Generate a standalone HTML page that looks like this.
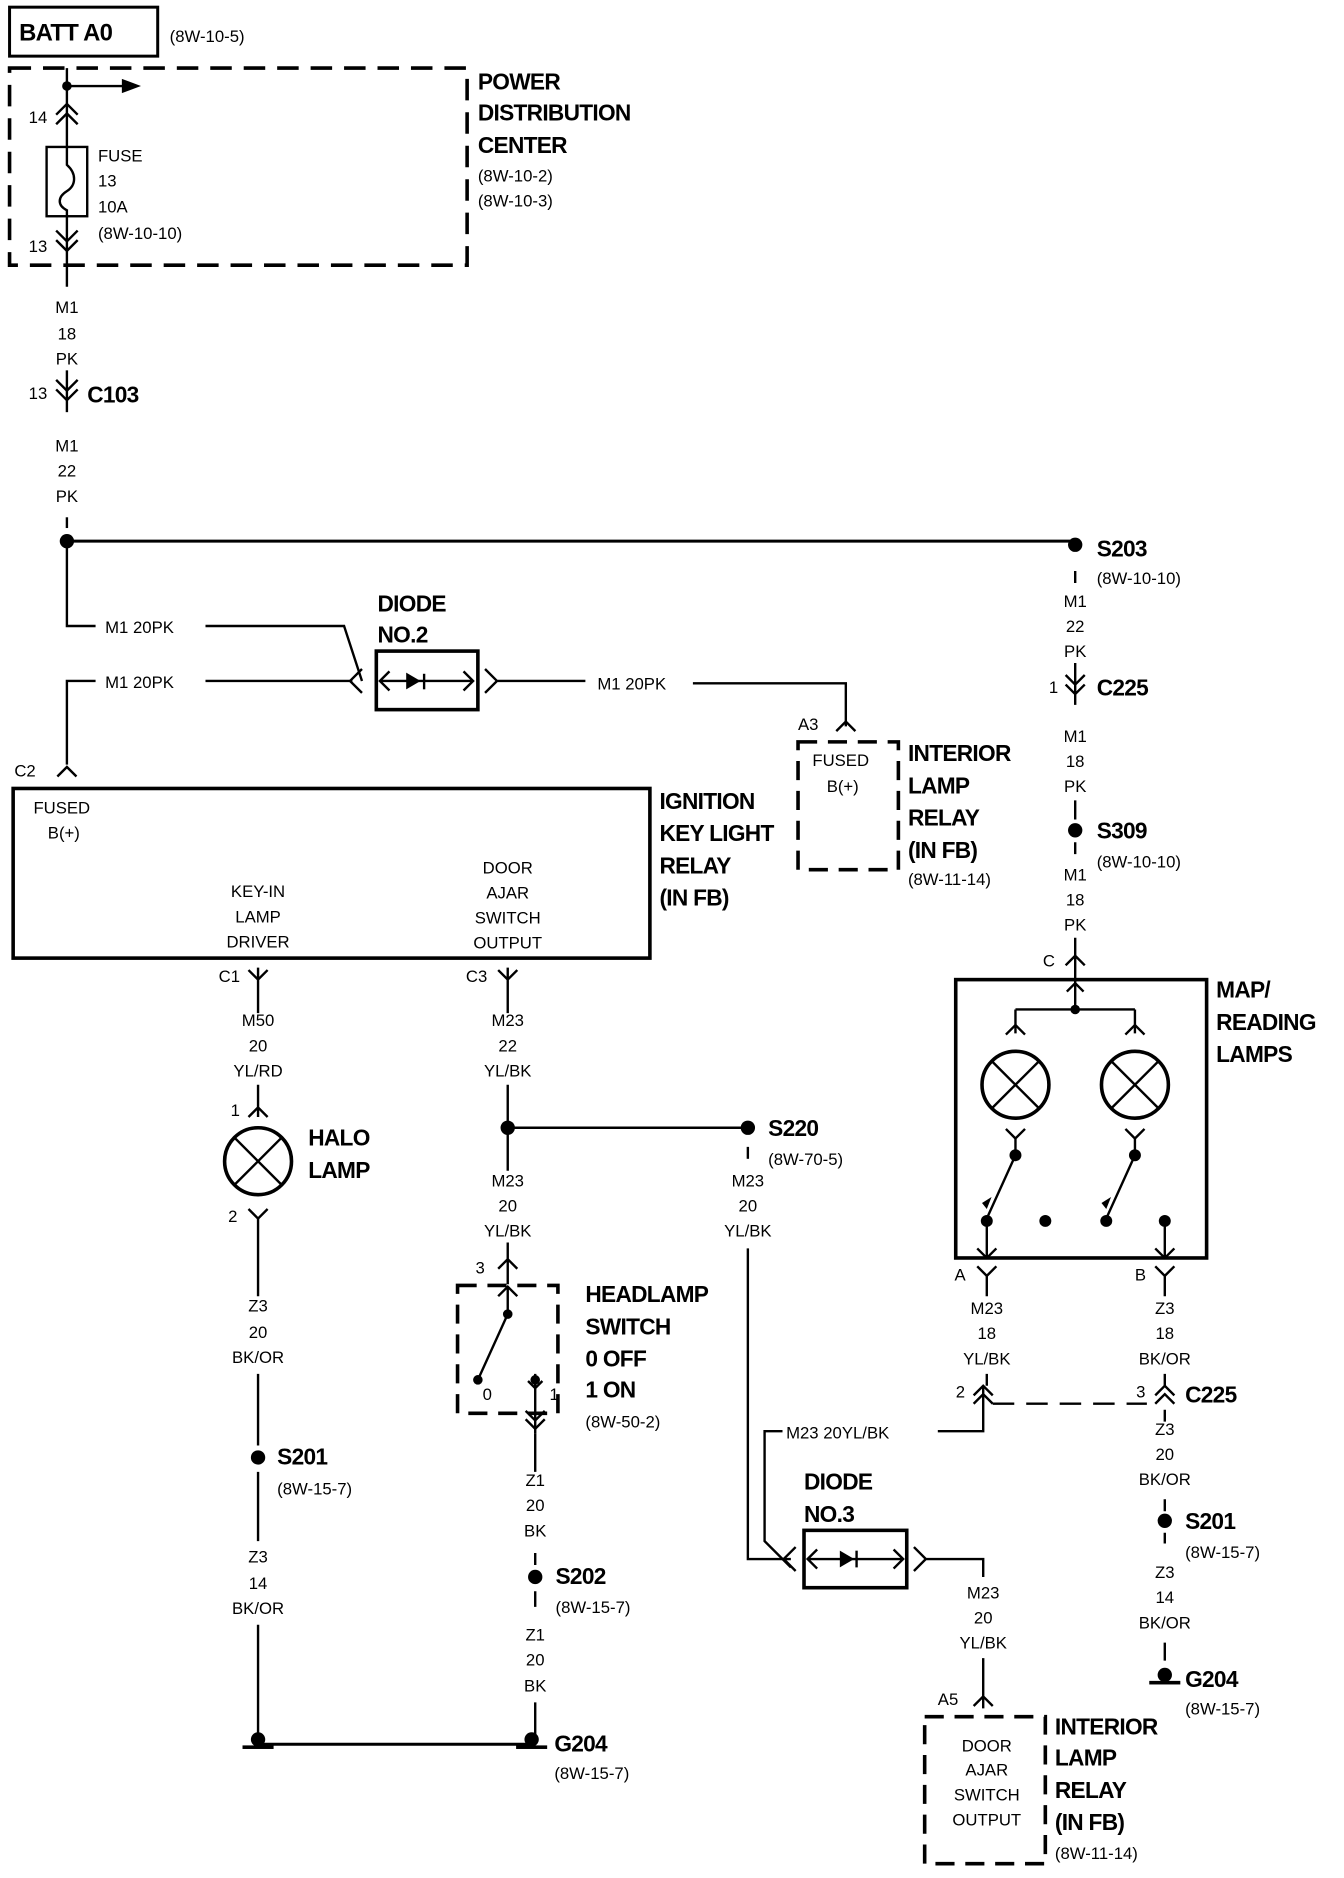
<!DOCTYPE html>
<html><head><meta charset="utf-8"><style>
html,body{margin:0;padding:0;background:#fff}
svg{display:block}
text{font-family:"Liberation Sans",sans-serif;fill:#000}
.s{font-size:14px}
.b{font-size:19px;font-weight:bold;letter-spacing:-0.6px}
.m{text-anchor:middle}
</style></head><body>
<svg width="1344" height="1878" viewBox="0 0 1125 1572" xmlns="http://www.w3.org/2000/svg">
<g fill="none" stroke="#000" stroke-width="2">
<rect x="8" y="6" width="124" height="41" stroke-width="2.5"/>
<path d="M8 57 H391 V222 H8 Z" stroke-width="3" stroke-dasharray="18,10"/>
<path d="M56 57 V123 M56 181 V240"/>
<path d="M56 72 H105"/>
<path d="M56 433 V442"/>
<path d="M47 96 L56 87 L65 96 M47 104 L56 95 L65 104"/>
<rect x="39" y="123" width="34" height="58"/>
<path d="M56 123 V138 C64 145 64 155 56 160 C48 165 48 172 56 176 V181"/>
<path d="M47 193 L56 202 L65 193 M47 201 L56 210 L65 201"/>
<path d="M56 310 V345"/>
<path d="M47 318 L56 327 L65 318 M47 326 L56 335 L65 326"/>
<path d="M56 453 H900" stroke-width="2.5"/>
<path d="M56 453 V524 H80 M172 524 H288 L303 570"/>
<path d="M56 640 V570 H80 M172 570 H295"/>
<path d="M303 560 L293 570 L303 580"/>
<rect x="315" y="545" width="85" height="49" stroke-width="3"/>
<path d="M318 570 H396 M326 562 L318 570 L326 578 M388 562 L396 570 L388 578"/>
<path d="M355 564 V577"/>
<path d="M406 560 L416 570 L406 580 M416 570 H490"/>
<path d="M580 572 H708 V608"/>
<path d="M700 612 L708 604 L716 612"/>
<path d="M668 621 H752 V728 H668 Z" stroke-width="3" stroke-dasharray="16,9"/>
<path d="M48 650 L56 642 L64 650"/>
<rect x="11" y="660" width="533" height="142" stroke-width="3"/>
<path d="M216 810 V848 M208 812 L216 820 L224 812"/>
<path d="M216 908 V935 M208 935 L216 927 L224 935"/>
<circle cx="216" cy="972" r="28" stroke-width="3"/>
<path d="M196 952 L236 992 M236 952 L196 992"/>
<path d="M208 1012 L216 1020 L224 1012 M216 1020 V1085 M216 1150 V1210 M216 1232 V1290 M216 1360 V1455"/>
<path d="M216 1460 H445" stroke-width="2.5"/>
<path d="M425 810 V848 M417 812 L425 820 L433 812"/>
<path d="M425 908 V980 M425 944 H626"/>
<path d="M626 960 V970"/>
<path d="M425 1040 V1075 M417 1062 L425 1054 L433 1062"/>
<path d="M383 1076 H467 V1183 H383 Z" stroke-width="3" stroke-dasharray="16,9"/>
<path d="M417 1085 L425 1077 L433 1085 M425 1077 V1100 L400 1155"/>
<path d="M448 1150 V1200 M442 1156 L448 1162 L454 1156"/>
<path d="M440 1188 L448 1196 L456 1188 M440 1181 L448 1189 L456 1181"/>
<path d="M448 1200 V1232 M448 1300 V1310 M448 1332 V1345 M448 1425 V1455"/>
<path d="M626 1045 V1305 H662"/>
<path d="M655 1198 H640 V1290 L662 1312"/>
<path d="M666 1295 L656 1305 L666 1315"/>
<rect x="673" y="1281" width="86" height="48" stroke-width="3"/>
<path d="M676 1305 H756 M684 1297 L676 1305 L684 1313 M748 1297 L756 1305 L748 1313"/>
<path d="M717 1298 V1312"/>
<path d="M765 1295 L775 1305 L765 1315 M775 1305 H823 V1320"/>
<path d="M823 1388 V1430 M815 1428 L823 1420 L831 1428"/>
<path d="M774 1437 H875 V1560 H774 Z" stroke-width="3" stroke-dasharray="16,9"/>
<path d="M785 1198 H823 V1160"/>
<path d="M815 1168 L823 1160 L831 1168 M815 1175 L823 1167 L831 1175"/>
<path d="M831 1175 H960" stroke-dasharray="18,10"/>
<path d="M967 1168 L975 1160 L983 1168 M967 1175 L975 1167 L983 1175"/>
<path d="M900 478 V488 M900 555 V590 M892 565 L900 573 L908 565 M892 573 L900 581 L908 573"/>
<path d="M900 670 V686 M900 705 V715 M900 785 V820 M892 808 L900 800 L908 808"/>
<rect x="800" y="820" width="210" height="233" stroke-width="3"/>
<path d="M900 820 V845 M893 830 L900 823 L907 830 M850 845 H950 M850 845 V865 M950 845 V865"/>
<path d="M842 866 L850 858 L858 866 M942 866 L950 858 L958 866"/>
<circle cx="850" cy="908" r="28" stroke-width="3"/>
<path d="M830 888 L870 928 M870 888 L830 928"/>
<circle cx="950" cy="908" r="28" stroke-width="3"/>
<path d="M930 888 L970 928 M970 888 L930 928"/>
<path d="M842 945 L850 953 L858 945 M850 953 V967 L826 1020"/>
<path d="M942 945 L950 953 L958 945 M950 953 V967 L926 1020"/>
<path d="M826 1022 V1053 M818 1045 L826 1053 L834 1045 M975 1022 V1053 M967 1045 L975 1053 L983 1045"/>
<path d="M818 1060 L826 1068 L834 1060 M826 1068 V1085 M967 1060 L975 1068 L983 1060 M975 1068 V1085"/>
<path d="M826 1150 V1160 M975 1150 V1160 M975 1180 V1190 M975 1255 V1265 M975 1283 V1292 M975 1375 V1390"/>
</g>
<g fill="#000">
<circle cx="56" cy="72" r="4"/>
<path d="M102 66 L118 72 L102 78 Z"/>
<circle cx="56" cy="453" r="6"/>
<circle cx="900" cy="456" r="6"/>
<path d="M340 563 L352 570 L340 577 Z"/>
<path d="M703 1298 L715 1305 L703 1312 Z"/>
<circle cx="425" cy="944" r="6"/>
<circle cx="626" cy="944" r="6"/>
<circle cx="425" cy="1100" r="4"/>
<circle cx="400" cy="1155" r="4"/>
<circle cx="448" cy="1155" r="4"/>
<circle cx="216" cy="1220" r="6"/>
<circle cx="448" cy="1320" r="6"/>
<circle cx="900" cy="695" r="6"/>
<circle cx="900" cy="845" r="4"/>
<circle cx="850" cy="967" r="5"/><circle cx="950" cy="967" r="5"/>
<circle cx="826" cy="1022" r="5"/><circle cx="875" cy="1022" r="5"/><circle cx="926" cy="1022" r="5"/><circle cx="975" cy="1022" r="5"/>
<path d="M826 1012 L830 1002 L822 1007 Z M926 1012 L930 1002 L922 1007 Z"/>
<circle cx="975" cy="1273" r="6"/>
<circle cx="216" cy="1456" r="6"/><rect x="203" y="1461" width="26" height="3"/>
<circle cx="445" cy="1456" r="6"/><rect x="432" y="1461" width="26" height="3"/>
<circle cx="975" cy="1402" r="6"/><rect x="962" y="1407" width="26" height="3"/>
</g>
<text x="16" y="34" class="b" style="font-size:20px">BATT A0</text>
<text x="142" y="35" class="s">(8W-10-5)</text>
<text x="400" y="75" class="b">POWER</text>
<text x="400" y="101" class="b">DISTRIBUTION</text>
<text x="400" y="128" class="b">CENTER</text>
<text x="400" y="152" class="s">(8W-10-2)</text>
<text x="400" y="173" class="s">(8W-10-3)</text>
<text x="24" y="103" class="s">14</text>
<text x="82" y="135" class="s">FUSE</text>
<text x="82" y="156" class="s">13</text>
<text x="82" y="178" class="s">10A</text>
<text x="82" y="200" class="s">(8W-10-10)</text>
<text x="24" y="211" class="s">13</text>
<text x="56" y="262" class="s m">M1</text><text x="56" y="284" class="s m">18</text><text x="56" y="305" class="s m">PK</text>
<text x="24" y="334" class="s">13</text>
<text x="73" y="337" class="b">C103</text>
<text x="56" y="378" class="s m">M1</text><text x="56" y="399" class="s m">22</text><text x="56" y="420" class="s m">PK</text>
<text x="918" y="466" class="b">S203</text>
<text x="918" y="489" class="s">(8W-10-10)</text>
<text x="88" y="530" class="s">M1  20PK</text>
<text x="88" y="576" class="s">M1  20PK</text>
<text x="316" y="512" class="b">DIODE</text>
<text x="316" y="538" class="b">NO.2</text>
<text x="500" y="577" class="s">M1  20PK</text>
<text x="668" y="611" class="s">A3</text>
<text x="680" y="641" class="s">FUSED</text>
<text x="692" y="663" class="s">B(+)</text>
<text x="760" y="637" class="b">INTERIOR</text>
<text x="760" y="664" class="b">LAMP</text>
<text x="760" y="691" class="b">RELAY</text>
<text x="760" y="718" class="b">(IN FB)</text>
<text x="760" y="741" class="s">(8W-11-14)</text>
<text x="12" y="650" class="s">C2</text>
<text x="28" y="681" class="s">FUSED</text>
<text x="40" y="702" class="s">B(+)</text>
<text x="216" y="751" class="s m">KEY-IN</text><text x="216" y="772" class="s m">LAMP</text><text x="216" y="793" class="s m">DRIVER</text>
<text x="425" y="731" class="s m">DOOR</text><text x="425" y="752" class="s m">AJAR</text><text x="425" y="773" class="s m">SWITCH</text><text x="425" y="794" class="s m">OUTPUT</text>
<text x="552" y="677" class="b">IGNITION</text>
<text x="552" y="704" class="b">KEY LIGHT</text>
<text x="552" y="731" class="b">RELAY</text>
<text x="552" y="758" class="b">(IN FB)</text>
<text x="183" y="822" class="s">C1</text>
<text x="216" y="859" class="s m">M50</text><text x="216" y="880" class="s m">20</text><text x="216" y="901" class="s m">YL/RD</text>
<text x="193" y="934" class="s">1</text>
<text x="258" y="959" class="b">HALO</text><text x="258" y="986" class="b">LAMP</text>
<text x="191" y="1023" class="s">2</text>
<text x="216" y="1098" class="s m">Z3</text><text x="216" y="1120" class="s m">20</text><text x="216" y="1141" class="s m">BK/OR</text>
<text x="232" y="1226" class="b">S201</text><text x="232" y="1251" class="s">(8W-15-7)</text>
<text x="216" y="1308" class="s m">Z3</text><text x="216" y="1330" class="s m">14</text><text x="216" y="1351" class="s m">BK/OR</text>
<text x="390" y="822" class="s">C3</text>
<text x="425" y="859" class="s m">M23</text><text x="425" y="880" class="s m">22</text><text x="425" y="901" class="s m">YL/BK</text>
<text x="643" y="951" class="b">S220</text><text x="643" y="975" class="s">(8W-70-5)</text>
<text x="425" y="993" class="s m">M23</text><text x="425" y="1014" class="s m">20</text><text x="425" y="1035" class="s m">YL/BK</text>
<text x="626" y="993" class="s m">M23</text><text x="626" y="1014" class="s m">20</text><text x="626" y="1035" class="s m">YL/BK</text>
<text x="398" y="1066" class="s">3</text>
<text x="404" y="1172" class="s">0</text><text x="460" y="1172" class="s">1</text>
<text x="490" y="1090" class="b">HEADLAMP</text>
<text x="490" y="1117" class="b">SWITCH</text>
<text x="490" y="1144" class="b">0 OFF</text>
<text x="490" y="1170" class="b">1 ON</text>
<text x="490" y="1195" class="s">(8W-50-2)</text>
<text x="448" y="1244" class="s m">Z1</text><text x="448" y="1265" class="s m">20</text><text x="448" y="1286" class="s m">BK</text>
<text x="465" y="1326" class="b">S202</text><text x="465" y="1350" class="s">(8W-15-7)</text>
<text x="448" y="1373" class="s m">Z1</text><text x="448" y="1394" class="s m">20</text><text x="448" y="1416" class="s m">BK</text>
<text x="464" y="1466" class="b">G204</text><text x="464" y="1489" class="s">(8W-15-7)</text>
<text x="658" y="1204" class="s">M23   20YL/BK</text>
<text x="673" y="1247" class="b">DIODE</text>
<text x="673" y="1274" class="b">NO.3</text>
<text x="823" y="1338" class="s m">M23</text><text x="823" y="1359" class="s m">20</text><text x="823" y="1380" class="s m">YL/BK</text>
<text x="785" y="1427" class="s">A5</text>
<text x="826" y="1466" class="s m">DOOR</text><text x="826" y="1486" class="s m">AJAR</text><text x="826" y="1507" class="s m">SWITCH</text><text x="826" y="1528" class="s m">OUTPUT</text>
<text x="883" y="1452" class="b">INTERIOR</text>
<text x="883" y="1478" class="b">LAMP</text>
<text x="883" y="1505" class="b">RELAY</text>
<text x="883" y="1532" class="b">(IN FB)</text>
<text x="883" y="1556" class="s">(8W-11-14)</text>
<text x="900" y="508" class="s m">M1</text><text x="900" y="529" class="s m">22</text><text x="900" y="550" class="s m">PK</text>
<text x="878" y="580" class="s">1</text>
<text x="918" y="582" class="b">C225</text>
<text x="900" y="621" class="s m">M1</text><text x="900" y="642" class="s m">18</text><text x="900" y="663" class="s m">PK</text>
<text x="918" y="702" class="b">S309</text><text x="918" y="726" class="s">(8W-10-10)</text>
<text x="900" y="737" class="s m">M1</text><text x="900" y="758" class="s m">18</text><text x="900" y="779" class="s m">PK</text>
<text x="873" y="809" class="s">C</text>
<text x="1018" y="835" class="b">MAP/</text>
<text x="1018" y="862" class="b">READING</text>
<text x="1018" y="889" class="b">LAMPS</text>
<text x="799" y="1072" class="s">A</text>
<text x="950" y="1072" class="s">B</text>
<text x="826" y="1100" class="s m">M23</text><text x="826" y="1121" class="s m">18</text><text x="826" y="1142" class="s m">YL/BK</text>
<text x="975" y="1100" class="s m">Z3</text><text x="975" y="1121" class="s m">18</text><text x="975" y="1142" class="s m">BK/OR</text>
<text x="800" y="1170" class="s">2</text>
<text x="951" y="1170" class="s">3</text>
<text x="992" y="1174" class="b">C225</text>
<text x="975" y="1201" class="s m">Z3</text><text x="975" y="1222" class="s m">20</text><text x="975" y="1243" class="s m">BK/OR</text>
<text x="992" y="1280" class="b">S201</text><text x="992" y="1304" class="s">(8W-15-7)</text>
<text x="975" y="1321" class="s m">Z3</text><text x="975" y="1342" class="s m">14</text><text x="975" y="1363" class="s m">BK/OR</text>
<text x="992" y="1412" class="b">G204</text><text x="992" y="1435" class="s">(8W-15-7)</text>
</svg>
</body></html>
